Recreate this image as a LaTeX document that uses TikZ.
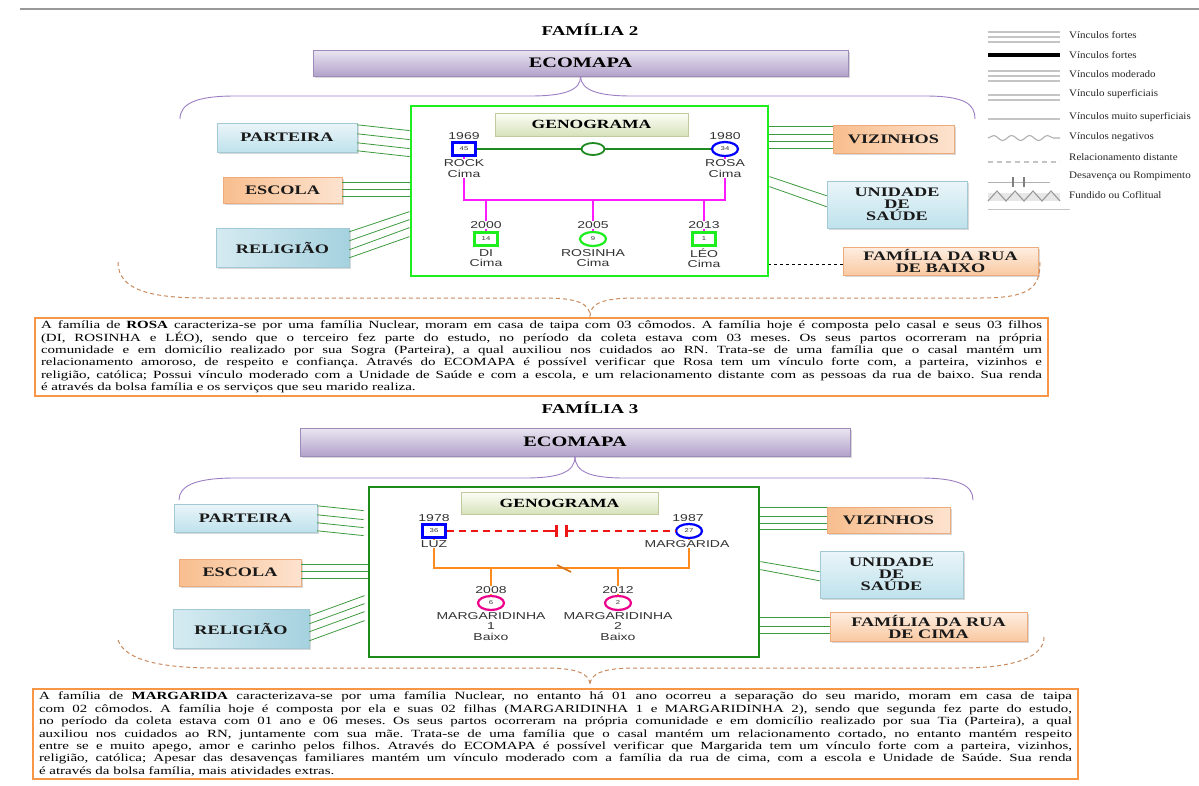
\documentclass[tikz,border=0pt]{standalone}
\usepackage{fontspec}
\setmainfont{Liberation Serif}[FakeStretch=1.4]
\newfontfamily\bodyfont{Liberation Serif}[FakeStretch=1.36]
\newfontfamily\genofont{Liberation Sans}[FakeStretch=1.4]
\newfontfamily\legfont{Liberation Serif}[FakeStretch=1.1]
\usetikzlibrary{calc,shadows,shapes.geometric,decorations.pathmorphing}

\definecolor{bracepurple}{HTML}{9C7EC4}
\definecolor{ecotop}{HTML}{EAE6F1}
\definecolor{ecobot}{HTML}{B2A2CB}
\definecolor{ecoedge}{HTML}{9F8BBA}
\definecolor{bracetan}{HTML}{C98A5E}
\definecolor{boxorange}{HTML}{F79646}
\definecolor{limegreen}{HTML}{1EEE1E}
\definecolor{forest}{HTML}{1B8A1B}
\definecolor{linkgreen}{HTML}{3E9A3E}
\definecolor{marrgreen}{HTML}{1F8A1F}
\definecolor{bluetop}{HTML}{EAF5F9}
\definecolor{bluebot}{HTML}{BFE2EC}
\definecolor{bluedeep}{HTML}{A5D2DF}
\definecolor{blueedge}{HTML}{A3C9D5}
\definecolor{orgdeep}{HTML}{F8BE8E}
\definecolor{orglight}{HTML}{FDE3CF}
\definecolor{orgedge}{HTML}{EDAA7A}
\definecolor{genotop}{HTML}{FDFEF8}
\definecolor{genobot}{HTML}{D6E2BA}
\definecolor{genoedge}{HTML}{BFCB9F}
\definecolor{kidline}{HTML}{FF1AFF}
\definecolor{kinorange}{HTML}{FF8A1E}
\definecolor{sepred}{HTML}{EE1515}
\definecolor{labgray}{HTML}{333333}
\definecolor{leggray}{HTML}{C4C4C4}

\tikzset{
  heading/.style={font=\bfseries\fontsize{13.5}{15}\selectfont},
  ecobox/.style={draw=ecoedge, top color=ecotop, bottom color=ecobot,
    inner sep=0, font=\bfseries\fontsize{14.5}{16}\selectfont,
    drop shadow={opacity=0.3, shadow xshift=1.5pt, shadow yshift=-1.5pt}},
  mapbox/.style={inner sep=0, align=center, text=black!90,
    font=\bfseries\fontsize{13}{12}\selectfont,
    drop shadow={opacity=0.3, shadow xshift=1.5pt, shadow yshift=-1.5pt}},
  bluebox/.style={mapbox, draw=blueedge, top color=bluetop, bottom color=bluebot},
  deepbluebox/.style={mapbox, draw=blueedge, left color=bluetop!70!bluedeep, right color=bluedeep},
  orangebox/.style={mapbox, draw=orgedge, left color=orgdeep, right color=orglight},
  paleorangebox/.style={mapbox, draw=orgedge, top color=orglight!60!white, bottom color=orgdeep!70!orglight},
  genobox/.style={draw=genoedge, top color=genotop, bottom color=genobot, inner sep=0,
    font=\bfseries\fontsize{12.5}{13}\selectfont,
    drop shadow={opacity=0.25, shadow xshift=1.2pt, shadow yshift=-1.2pt}},
  link/.style={draw=linkgreen, line width=0.8},
  symb/.style={line width=2.2, inner sep=0, fill=white, text=labgray,
    font=\genofont\fontsize{5.5}{6}\selectfont},
  male/.style={symb, rectangle, minimum width=23, minimum height=13},
  female/.style={symb, ellipse, minimum width=26, minimum height=14},
  yearlab/.style={font=\genofont\fontsize{10}{10}\selectfont, text=labgray, fill=white, inner sep=0.6},
  namelab/.style={font=\genofont\fontsize{10}{10.3}\selectfont, text=labgray, fill=white, inner sep=0.6, align=center},
  textbox/.style={draw=boxorange, line width=1.8, align=justify, inner xsep=6, inner ysep=3,
    font=\bodyfont\frenchspacing\fontsize{11}{12.4}\selectfont, text=black},
  legline/.style={draw=leggray, line width=1.1},
  legtext/.style={anchor=west, inner sep=0, text=black!85, font=\legfont\fontsize{10}{10}\selectfont},
}

\begin{document}
\begin{tikzpicture}[x=1pt, y=-1pt]
\useasboundingbox (0,0) rectangle (1199,785);
\fill[white] (0,0) rectangle (1199,785);
\draw[gray!80, line width=1.2] (20,9) -- (1199,9);

% ================= FAMILIA 2 =================
\node[heading] (fam2) at (590,30) {FAMÍLIA 2};
\node[ecobox, minimum width=535, minimum height=26] (eco2) at (580.5,63) {ECOMAPA};

% purple brace under the ECOMAPA bar
\draw[bracepurple, line width=0.9]
  (eco2.south) .. controls (581,90) and (565,96) .. (530,96) -- (235,96)
  .. controls (195,96) and (180,104) .. (180,119);
\draw[bracepurple, line width=0.9]
  (eco2.south) .. controls (581,90) and (597,96) .. (632,96) -- (925,96)
  .. controls (965,96) and (975,104) .. (975,119);

% genogram frame
\node[draw=limegreen, line width=2.8, minimum width=357, minimum height=170] (g2) at (589.5,191) {};
\node[genobox, minimum width=193, minimum height=23] (geno2) at (591.5,124.5) {GENOGRAMA};

\node[male, draw=blue] (rock) at (464,149) {45};
\node[female, draw=blue] (rosa) at (725,149) {34};
\node[draw=marrgreen, line width=1.8, ellipse, minimum width=23, minimum height=12, inner sep=0] (m2) at (593,149) {};
\draw[marrgreen, line width=1.8] (rock) -- (m2) -- (rosa);

\node[male, draw=limegreen] (di) at (486,239) {14};
\node[female, draw=limegreen] (rosinha) at (593,239) {9};
\node[male, draw=limegreen] (leo) at (704,239) {1};

\coordinate (bar2) at (593,200);
\draw[kidline, line width=2.6] (rock.south) -- (rock.south |- bar2) -- (rosa.south |- bar2) -- (rosa.south);
\foreach \k in {di,rosinha,leo}
  \draw[kidline, line width=2.6] (\k.north |- bar2) -- (\k.north);

\node[yearlab] at (464,136) {1969};
\node[yearlab] at (725,136) {1980};
\node[namelab] at (464,168.5) {ROCK\\Cima};
\node[namelab] at (725,168.5) {ROSA\\Cima};
\node[yearlab] at (486,225) {2000};
\node[yearlab] at (593,225) {2005};
\node[yearlab] at (704,225) {2013};
\node[namelab] at (486,258) {DI\\Cima};
\node[namelab] at (593,258) {ROSINHA\\Cima};
\node[namelab] at (704,258) {LÉO\\Cima};

% surrounding systems
\node[bluebox, minimum width=140, minimum height=29] (parteira2) at (287,137.5) {PARTEIRA};
\node[orangebox, minimum width=119, minimum height=26] (escola2) at (282.5,190) {ESCOLA};
\node[deepbluebox, minimum width=133, minimum height=39] (religiao2) at (282.5,247.5) {RELIGIÃO};
\node[orangebox, minimum width=121, minimum height=28] (vizinhos2) at (893.5,139) {VIZINHOS};
\node[bluebox, minimum width=140, minimum height=47] (unidade2) at (897,204.5) {UNIDADE\\DE\\SAÚDE};
\node[paleorangebox, minimum width=195, minimum height=28] (rua2) at (940.5,261) {FAMÍLIA DA RUA\\DE BAIXO};

\foreach \a/\b in {2/26, 11/35, 20/44, 28/52}
  \draw[link] ([yshift=-\a pt]parteira2.north east) -- ([yshift=-\b pt]g2.north west);
\foreach \a in {6,13,20} {
  \coordinate (s) at ([yshift=-\a pt]escola2.north east);
  \draw[link] (s) -- (s -| g2.west);
}
\foreach \a/\b in {4/107, 13/115, 22/123, 30/132}
  \draw[link] ([yshift=-\a pt]religiao2.north east) -- ([yshift=-\b pt]g2.north west);
\foreach \a in {22,30,37,44} {
  \coordinate (s) at ([yshift=-\a pt]g2.north east);
  \draw[link] (s) -- (s -| vizinhos2.west);
}
\foreach \a/\b in {72/15, 82/26}
  \draw[link] ([yshift=-\a pt]g2.north east) -- ([yshift=-\b pt]unidade2.north west);
\coordinate (r2) at ([yshift=-3pt]rua2.west);
\draw[black, dashed, line width=0.8] (r2) -- (r2 -| g2.east);

% lower dashed brace
\coordinate (tip2) at (590,316);
\draw[bracetan, line width=1, dash pattern=on 4pt off 3pt]
  (118,262) .. controls (118,290) and (150,298) .. (205,298) -- (545,298)
  .. controls (578,298) and (590,304) .. (tip2)
  .. controls (590,304) and (602,298) .. (635,298) -- (980,298)
  .. controls (1030,298) and (1040,288) .. (1040,262);

\node[textbox, text width=1001, minimum width=1013, minimum height=78] (txt2) at (541.5,357) {%
A família de \textbf{ROSA} caracteriza-se por uma família Nuclear, moram em casa de taipa com 03 cômodos. A família hoje é composta pelo casal e seus 03 filhos\linebreak
(DI, ROSINHA e LÉO), sendo que o terceiro fez parte do estudo, no período da coleta estava com 03 meses. Os seus partos ocorreram na própria\linebreak
comunidade e em domicílio realizado por sua Sogra (Parteira), a qual auxiliou nos cuidados ao RN. Trata-se de uma família que o casal mantém um\linebreak
relacionamento amoroso, de respeito e confiança. Através do ECOMAPA é possível verificar que Rosa tem um vínculo forte com, a parteira, vizinhos e\linebreak
religião, católica; Possui vínculo moderado com a Unidade de Saúde e com a escola, e um relacionamento distante com as pessoas da rua de baixo. Sua renda\linebreak
é através da bolsa família e os serviços que seu marido realiza.};

% ================= FAMILIA 3 =================
\node[heading] (fam3) at (590,408) {FAMÍLIA 3};
\node[ecobox, minimum width=550, minimum height=28] (eco3) at (575,442) {ECOMAPA};

\draw[bracepurple, line width=0.9]
  (eco3.south) .. controls (575,472) and (560,478) .. (525,478) -- (235,478)
  .. controls (195,478) and (179,486) .. (179,500);
\draw[bracepurple, line width=0.9]
  (eco3.south) .. controls (575,472) and (590,478) .. (625,478) -- (920,478)
  .. controls (960,478) and (973,486) .. (973,500);

\node[draw=forest, line width=2.8, minimum width=390, minimum height=170] (g3) at (564,572) {};
\node[genobox, minimum width=197, minimum height=22] (geno3) at (559.5,503) {GENOGRAMA};

\node[male, draw=blue] (luz) at (434,531) {36};
\node[female, draw=blue] (marg) at (689,531) {27};
\draw[sepred, line width=1.8, dash pattern=on 7pt off 5pt] (luz) -- (marg);
\coordinate (mid3) at ($(luz)!0.5!(marg)$);
\fill[white] ([xshift=-8pt]mid3) ++(0,-5) rectangle ++(16,10);
\draw[sepred, line width=2.4] ([xshift=-5pt,yshift=6pt]mid3) -- ([xshift=-5pt,yshift=-6pt]mid3);
\draw[sepred, line width=2.4] ([xshift=5pt,yshift=6pt]mid3) -- ([xshift=5pt,yshift=-6pt]mid3);
\draw[sepred, line width=1.8] ([xshift=-12pt]mid3) -- ([xshift=-5pt]mid3);
\draw[sepred, line width=1.8] ([xshift=5pt]mid3) -- ([xshift=12pt]mid3);

\node[female, draw=magenta] (mg1) at (491,603) {6};
\node[female, draw=magenta] (mg2) at (618,603) {2};

\coordinate (bar3) at (564,568);
\draw[kinorange, line width=2.6] (luz.south) -- (luz.south |- bar3) -- (marg.south |- bar3) -- (marg.south);
\foreach \k in {mg1,mg2}
  \draw[kinorange, line width=2.6] (\k.north |- bar3) -- (\k.north);
\draw[kinorange!85!black, line width=1.6] ([xshift=-7pt,yshift=3pt]bar3) -- ([xshift=7pt,yshift=-4pt]bar3);

\node[yearlab] at (434,518) {1978};
\node[yearlab] at (688,518) {1987};
\node[namelab] at (434,544) {LUZ};
\node[namelab] at (687,544) {MARGARIDA};
\node[yearlab] at (491,590) {2008};
\node[yearlab] at (618,590) {2012};
\node[namelab] at (491,626.5) {MARGARIDINHA\\1\\Baixo};
\node[namelab] at (618,626.5) {MARGARIDINHA\\2\\Baixo};

\node[bluebox, minimum width=143, minimum height=28] (parteira3) at (245.5,518) {PARTEIRA};
\node[orangebox, minimum width=122, minimum height=27] (escola3) at (240,572.5) {ESCOLA};
\node[deepbluebox, minimum width=136, minimum height=39] (religiao3) at (241,628.5) {RELIGIÃO};
\node[orangebox, minimum width=123, minimum height=26] (vizinhos3) at (888.5,520) {VIZINHOS};
\node[bluebox, minimum width=143, minimum height=47] (unidade3) at (891.5,574.5) {UNIDADE\\DE\\SAÚDE};
\node[paleorangebox, minimum width=197, minimum height=29] (rua3) at (928.5,626.5) {FAMÍLIA DA RUA\\DE CIMA};

\foreach \a/\b in {2/25, 11/34, 19/42, 27/50}
  \draw[link] ([yshift=-\a pt]parteira3.north east) -- ([xshift=-4pt,yshift=-\b pt]g3.north west);
\foreach \a in {6,13,20} {
  \coordinate (s) at ([yshift=-\a pt]escola3.north east);
  \draw[link] (s) -- (s -| g3.west);
}
\foreach \a/\b in {7/110, 15/118, 23/126, 32/135}
  \draw[link] ([yshift=-\a pt]religiao3.north east) -- ([xshift=-3pt,yshift=-\b pt]g3.north west);
\foreach \a in {22,31,38,44} {
  \coordinate (s) at ([yshift=-\a pt]g3.north east);
  \draw[link] (s) -- (s -| vizinhos3.west);
}
\foreach \a/\b in {76/21, 84/30}
  \draw[link] ([yshift=-\a pt]g3.north east) -- ([yshift=-\b pt]unidade3.north west);
\foreach \a in {132,141,148} {
  \coordinate (s) at ([yshift=-\a pt]g3.north east);
  \draw[link] (s) -- (s -| rua3.west);
}

\coordinate (tip3) at (590,685);
\draw[bracetan, line width=1, dash pattern=on 4pt off 3pt]
  (118,640) .. controls (125,660) and (160,668) .. (215,668) -- (545,668)
  .. controls (578,668) and (590,674) .. (tip3)
  .. controls (590,674) and (602,668) .. (635,668) -- (960,668)
  .. controls (1020,668) and (1044,655) .. (1044,637);

\node[textbox, text width=1033, minimum width=1045, minimum height=90] (txt3) at (555.5,734) {%
A família de \textbf{MARGARIDA} caracterizava-se por uma família Nuclear, no entanto há 01 ano ocorreu a separação do seu marido, moram em casa de taipa\linebreak
com 02 cômodos. A família hoje é composta por ela e suas 02 filhas (MARGARIDINHA 1 e MARGARIDINHA 2), sendo que segunda fez parte do estudo,\linebreak
no período da coleta estava com 01 ano e 06 meses. Os seus partos ocorreram na própria comunidade e em domicílio realizado por sua Tia (Parteira), a qual\linebreak
auxiliou nos cuidados ao RN, juntamente com sua mãe. Trata-se de uma família que o casal mantém um relacionamento cortado, no entanto mantém respeito\linebreak
entre se e muito apego, amor e carinho pelos filhos. Através do ECOMAPA é possível verificar que Margarida tem um vínculo forte com a parteira, vizinhos,\linebreak
religião, católica; Apesar das desavenças familiares mantém um vínculo moderado com a família da rua de cima, com a escola e Unidade de Saúde. Sua renda\linebreak
é através da bolsa família, mais atividades extras.};

% ================= LEGENDA =================
\foreach \y in {32,37,42} \draw[legline] (988,\y) -- (1060,\y);
\draw[black, line width=3.2] (988,55) -- (1060,55);
\foreach \y in {71,76,81} \draw[legline] (988,\y) -- (1060,\y);
\foreach \y in {95,100} \draw[legline] (988,\y) -- (1060,\y);
\draw[legline] (988,119) -- (1060,119);
\draw[leggray!90!black, line width=1.1, decorate, decoration={snake, amplitude=2.5pt, segment length=18pt}] (988,138) -- (1060,138);
\draw[leggray, line width=1.1, dash pattern=on 5pt off 4pt] (988,162) -- (1060,162);
\draw[leggray!90!black, line width=1] (988,182) -- (1050,182);
\draw[gray, line width=1.3] (1013,177) -- (1013,187);
\draw[gray, line width=1.3] (1024,177) -- (1024,187);
\fill[leggray!40] (988,193) rectangle (1060,201);
\draw[gray!80, line width=1.1] (988,201) -- (997,191) -- (1006,201) -- (1015,191) -- (1024,201) -- (1033,191) -- (1042,201) -- (1051,191) -- (1060,201);
\draw[leggray, line width=1] (988,209) -- (1070,209);

\node[legtext] at (1069,35) {Vínculos fortes};
\node[legtext] at (1069,55) {Vínculos fortes};
\node[legtext] at (1069,74) {Vínculos moderado};
\node[legtext] at (1069,94) {Vínculo superficiais};
\node[legtext] at (1069,117) {Vínculos muito superficiais};
\node[legtext] at (1069,137) {Vínculos negativos};
\node[legtext] at (1069,157) {Relacionamento distante};
\node[legtext] at (1069,176) {Desavença ou Rompimento};
\node[legtext] at (1069,195) {Fundido ou Coflitual};
\end{tikzpicture}
\end{document}
